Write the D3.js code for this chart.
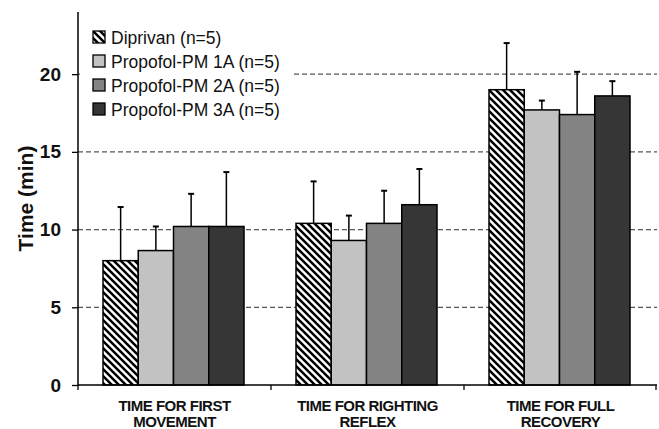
<!DOCTYPE html>
<html>
<head>
<meta charset="utf-8">
<script src="https://cdn.jsdelivr.net/npm/d3@7"></script>
<style>
  body { margin: 0; background: #fff; }
  text { font-family: Arial, "Liberation Sans", sans-serif; }
</style>
</head>
<body>
<svg width="659" height="429"></svg>
<script>
var svg = d3.select('svg');

// data
var categories = ['TIME FOR FIRST|MOVEMENT', 'TIME FOR RIGHTING|REFLEX', 'TIME FOR FULL|RECOVERY'];
var seriesNames = ['Diprivan (n=5)', 'Propofol-PM 1A (n=5)', 'Propofol-PM 2A (n=5)', 'Propofol-PM 3A (n=5)'];
var meanValues = [
  [8.0, 10.4, 19.0],   // Diprivan
  [8.65, 9.3, 17.7],   // 1A
  [10.2, 10.4, 17.4],  // 2A
  [10.2, 11.6, 18.6]   // 3A
];
var errorTops = [
  [11.45, 13.1, 22.0],
  [10.2, 10.9, 18.3],
  [12.3, 12.5, 20.15],
  [13.7, 13.9, 19.55]
];
var yTicks = [0, 5, 10, 15, 20];

var fills = ['url(#hatch)', '#c2c2c2', '#838383', '#363636'];

var y = d3.scaleLinear().domain([0, 24]).range([385, 12]);
var x = d3.scaleBand().domain(d3.range(categories.length)).range([78, 657]);
var xs = d3.scaleBand().domain(d3.range(seriesNames.length)).range([25, x.bandwidth() - 27]);

// hatch pattern for Diprivan
var defs = svg.append('defs');
var pat = defs.append('pattern')
    .attr('id', 'hatch')
    .attr('patternUnits', 'userSpaceOnUse')
    .attr('width', 7).attr('height', 7);
pat.append('rect').attr('width', 7).attr('height', 7).attr('fill', '#fff');
pat.append('path')
    .attr('d', 'M-2,-2 L9,9 M-2,5 L2,9 M5,-2 L9,2')
    .attr('stroke', '#000')
    .attr('stroke-width', 2.5);

// dashed gridlines
svg.append('g')
  .selectAll('line')
  .data(yTicks.slice(1))
  .join('line')
    .attr('x1', 78).attr('x2', 657)
    .attr('y1', d => y(d)).attr('y2', d => y(d))
    .attr('stroke', '#555')
    .attr('stroke-width', 1.3)
    .attr('stroke-dasharray', '5,3');

// legend background hides the gridline behind it
svg.append('rect')
    .attr('x', 80).attr('y', 22).attr('width', 212).attr('height', 100)
    .attr('fill', '#fff');

// bars
meanValues.forEach(function (vals, i) {
  svg.append('g')
      .attr('fill', fills[i])
    .selectAll('rect')
    .data(vals)
    .join('rect')
      .attr('x', (d, j) => x(j) + xs(i))
      .attr('y', d => y(d))
      .attr('width', xs.bandwidth())
      .attr('height', d => y(0) - y(d))
      .attr('stroke', '#000')
      .attr('stroke-width', 1.5);
});

// error bars (upper only)
errorTops.forEach(function (tops, i) {
  var g = svg.append('g').attr('stroke', '#000').attr('stroke-width', 1.5);
  tops.forEach(function (t, j) {
    var cx = x(j) + xs(i) + xs.bandwidth() / 2;
    g.append('line')
      .attr('x1', cx).attr('x2', cx)
      .attr('y1', y(meanValues[i][j])).attr('y2', y(t));
    g.append('line')
      .attr('x1', cx - 3).attr('x2', cx + 3)
      .attr('y1', y(t)).attr('y2', y(t))
      .attr('stroke-width', 2);
  });
});

// axes
var yAxis = svg.append('g')
    .attr('transform', 'translate(78,0)')
    .call(d3.axisLeft(y).tickValues(yTicks).tickSize(6).tickPadding(11));
yAxis.select('.domain').attr('d', 'M0,' + y(0) + 'V12').attr('stroke-width', 1.5);
yAxis.selectAll('line').attr('stroke-width', 1.3);
yAxis.selectAll('text')
    .attr('font-size', 19).attr('font-weight', 'bold').attr('fill', '#111')
    .attr('font-family', 'Arial, "Liberation Sans", sans-serif');

var xAxis = svg.append('g')
    .attr('transform', 'translate(0,' + y(0) + ')');
xAxis.append('line')
    .attr('x1', 78).attr('x2', 657)
    .attr('stroke', '#000').attr('stroke-width', 1.5);
xAxis.selectAll('.tk')
  .data(d3.range(categories.length + 1))
  .join('line')
    .attr('class', 'tk')
    .attr('x1', d => d < categories.length ? x(d) : x.range()[1] - 1)
    .attr('x2', d => d < categories.length ? x(d) : x.range()[1] - 1)
    .attr('y1', 0).attr('y2', 5)
    .attr('stroke', '#000').attr('stroke-width', 1.3);

var xLabels = svg.append('g')
  .selectAll('text')
  .data(categories)
  .join('text')
    .attr('text-anchor', 'middle')
    .attr('font-size', 15)
    .attr('font-weight', 'bold')
    .attr('letter-spacing', -0.5)
    .attr('fill', '#111');
xLabels.each(function (d, i) {
  var parts = d.split('|');
  var t = d3.select(this);
  parts.forEach(function (p, k) {
    t.append('tspan')
      .attr('x', x(i) + x.bandwidth() / 2)
      .attr('y', 411 + k * 15.5)
      .text(p);
  });
});

// y label
svg.append('text')
    .attr('transform', 'translate(33,' + y(12) + ')rotate(270)')
    .attr('text-anchor', 'middle')
    .attr('font-size', 21)
    .attr('font-weight', 'bold')
    .attr('fill', '#111')
    .text('Time (min)');

// legend
var legend = svg.append('g')
  .selectAll('g')
  .data(seriesNames)
  .join('g')
    .attr('transform', (d, i) => 'translate(93,' + (31 + i * 24) + ')');
legend.append('rect')
    .attr('width', 12).attr('height', 12)
    .attr('fill', (d, i) => fills[i])
    .attr('stroke', '#000').attr('stroke-width', 1.3);
legend.append('text')
    .attr('x', 18).attr('y', 12.5)
    .attr('font-size', 17.5)
    .attr('fill', '#111')
    .text(d => d);
</script>
</body>
</html>
